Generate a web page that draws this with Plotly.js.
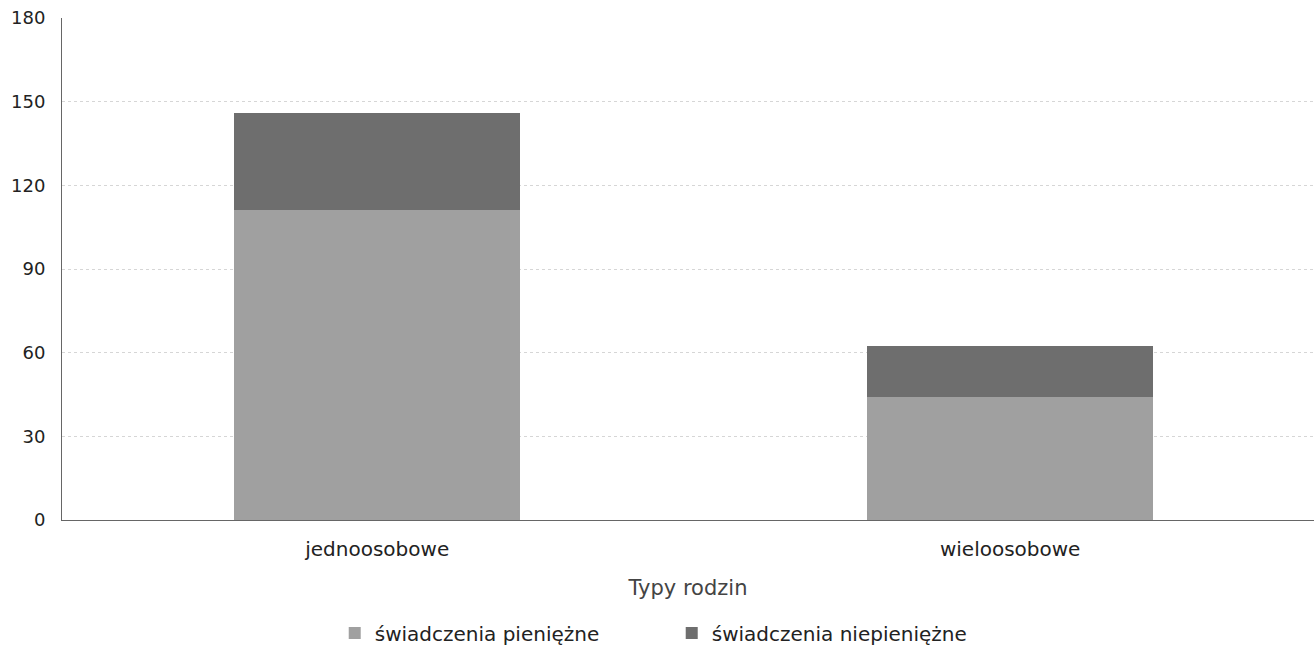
<!DOCTYPE html>
<html>
<head>
<meta charset="utf-8">
<script src="https://cdn.plot.ly/plotly-3.0.1.min.js"></script>
<style>html,body{margin:0;padding:0;background:#fff}#chart{width:1314px;height:646px}</style>
</head>
<body>
<div id="chart"></div>
<script>
const categories = ["jednoosobowe", "wieloosobowe"];
const seriesNames = ["świadczenia pieniężne", "świadczenia niepieniężne"];
const pieniezne = [111, 44];
const niepieniezne = [35, 18.5];
const yTicks = [0, 30, 60, 90, 120, 150, 180];

const fam = "DejaVu Sans, Verdana, sans-serif";

const traces = [
  {type: "bar", name: seriesNames[0], x: categories, y: pieniezne,
   marker: {color: "#a0a0a0", line: {width: 0}}},
  {type: "bar", name: seriesNames[1], x: categories, y: niepieniezne,
   marker: {color: "#6e6e6e", line: {width: 0}}}
];

const layout = {
  width: 1314, height: 646,
  margin: {l: 62, r: 0, t: 18, b: 126, autoexpand: false},
  barmode: "stack",
  bargap: 0.548,
  paper_bgcolor: "#fff", plot_bgcolor: "#fff",
  font: {family: fam, size: 18, color: "#222"},
  showlegend: true,
  legend: {orientation: "h", traceorder: "normal",
           x: 0.487, xanchor: "center", xref: "paper",
           y: 0.02, yref: "container", yanchor: "middle",
           font: {family: fam, size: 20, color: "#222"},
           entrywidth: 292, itemwidth: 30},
  xaxis: {
    type: "category", range: [-0.498, 1.48], automargin: false,
    showline: true, linecolor: "#666", linewidth: 1,
    ticks: "", tickfont: {family: fam, size: 20, color: "#222"}, ticklabelstandoff: 11,
    title: {text: "Typy rodzin", font: {family: fam, size: 21, color: "#444"}, standoff: 20}
  },
  yaxis: {
    range: [0, 180], tickvals: yTicks, ticktext: yTicks.map(String), automargin: false,
    showline: true, linecolor: "#666", linewidth: 1,
    showgrid: true, gridcolor: "#d6d6d6", griddash: "dot", gridwidth: 1,
    zeroline: false, ticks: "", tickfont: {family: fam, size: 18, color: "#222"}, ticklabelstandoff: 12
  }
};

Plotly.newPlot("chart", traces, layout, {displayModeBar: false, staticPlot: true});
</script>
</body>
</html>
